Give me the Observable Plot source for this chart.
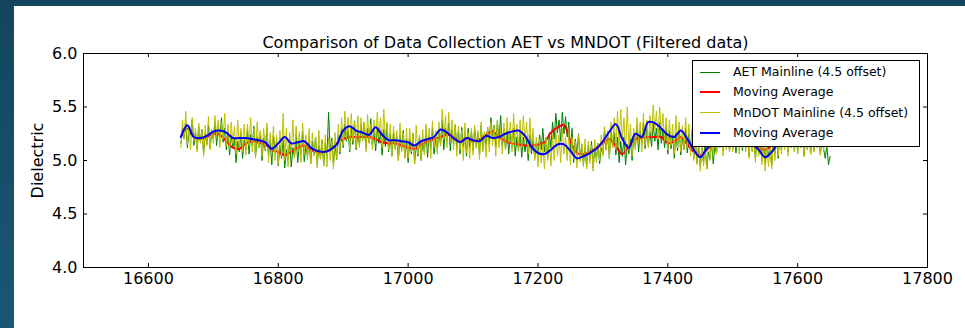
<!DOCTYPE html>
<html>
<head>
<meta charset="utf-8">
<script src="https://cdn.jsdelivr.net/npm/d3@7"></script>
<script src="https://cdn.jsdelivr.net/npm/@observablehq/plot@0.6"></script>
<style>
html, body { margin: 0; padding: 0; }
body { width: 965px; height: 328px; overflow: hidden; position: relative;
  background: linear-gradient(180deg, #124560 0%, #1a5774 100%);
  font-family: "DejaVu Sans", sans-serif; }
#panel { position: absolute; left: 14px; top: 6px; width: 951px; height: 322px; background: #fff; }
#chart { position: absolute; left: 0; top: 0; }
#legend { position: absolute; left: 678px; top: 54px; width: 226px; height: 85px;
  border: 1px solid #000; background: #fff; box-sizing: content-box; }
.row { position: absolute; left: 0; height: 20px; width: 226px; }
.sw { position: absolute; left: 7px; width: 20px; }
.lt { position: absolute; left: 40px; font-size: 12.5px; line-height: 20px; top: 0; color: #000; white-space: nowrap; }
</style>
</head>
<body>
<div id="panel">
  <div id="chart"></div>
  <div id="legend"></div>
</div>
<script>
// ---- data ----
const chartTitle = "Comparison of Data Collection AET vs MNDOT (Filtered data)";
const yLabel = "Dielectric";
const xTicks = [16600, 16800, 17000, 17200, 17400, 17600, 17800];
const yTicks = [4.0, 4.5, 5.0, 5.5, 6.0];
const xDomain = [16500, 17800];
const yDomain = [4.0, 6.0];

const rawStart = 16650;   // station of first raw sample
const rawStep = 2.5;      // station spacing of raw samples
const aetDielectric = [
  5.16, 5.30, 5.20, 5.35, 5.12, 5.28, 5.24, 5.38, 5.14, 5.26,
  5.10, 5.32, 5.18, 5.29, 5.06, 5.25, 5.15, 5.33, 5.12, 5.27,
  5.20, 5.36, 5.14, 5.31, 5.22, 5.40, 5.17, 5.30, 5.10, 5.28,
  5.05, 5.24, 5.12, 5.20, 4.98, 5.18, 5.08, 5.26, 5.02, 5.21,
  5.10, 5.29, 5.06, 5.24, 5.14, 5.32, 5.04, 5.22, 5.12, 5.27,
  5.00, 5.21, 5.09, 5.30, 5.05, 5.19, 4.96, 5.23, 5.11, 5.18,
  4.95, 5.14, 5.02, 5.20, 4.93, 5.10, 5.00, 5.17, 4.94, 5.12,
  5.03, 5.24, 4.98, 5.16, 5.06, 5.27, 4.99, 5.13, 5.04, 5.20,
  4.97, 5.18, 5.05, 5.22, 4.96, 5.14, 5.02, 5.19, 4.95, 5.16,
  5.04, 5.45, 5.08, 5.21, 4.97, 5.15, 5.01, 5.24, 5.06, 5.30,
  5.12, 5.34, 5.18, 5.29, 5.08, 5.31, 5.15, 5.37, 5.10, 5.27,
  5.14, 5.33, 5.20, 5.36, 5.11, 5.30, 5.17, 5.39, 5.13, 5.28,
  5.09, 5.31, 5.16, 5.27, 5.05, 5.29, 5.13, 5.34, 5.08, 5.25,
  5.04, 5.26, 5.12, 5.22, 5.00, 5.24, 5.09, 5.28, 5.03, 5.20,
  4.98, 5.20, 5.06, 5.25, 4.97, 5.16, 5.04, 5.22, 5.00, 5.18,
  5.08, 5.27, 5.03, 5.24, 5.12, 5.30, 5.06, 5.21, 5.10, 5.28,
  5.14, 5.38, 5.10, 5.30, 5.18, 5.35, 5.09, 5.29, 5.16, 5.33,
  5.11, 5.28, 5.06, 5.31, 5.13, 5.26, 5.04, 5.30, 5.12, 5.27,
  5.09, 5.30, 5.13, 5.26, 5.05, 5.33, 5.10, 5.24, 5.14, 5.31,
  5.16, 5.40, 5.20, 5.33, 5.12, 5.37, 5.18, 5.42, 5.14, 5.30,
  5.10, 5.28, 5.06, 5.25, 5.12, 5.30, 5.04, 5.22, 5.09, 5.27,
  5.03, 5.22, 5.08, 5.19, 5.00, 5.24, 5.06, 5.20, 5.02, 5.17,
  5.05, 5.24, 5.10, 5.30, 5.08, 5.22, 5.03, 5.26, 5.12, 5.36,
  5.20, 5.44, 5.26, 5.38, 5.18, 5.45, 5.25, 5.41, 5.22, 5.36,
  5.10, 5.30, 4.98, 5.20, 5.06, 5.25, 5.02, 5.15, 4.96, 5.12,
  4.94, 5.14, 5.00, 5.18, 4.93, 5.10, 5.02, 5.16, 4.97, 5.12,
  5.06, 5.28, 5.10, 5.24, 5.02, 5.30, 5.12, 5.26, 5.05, 5.22,
  4.98, 5.18, 5.04, 5.22, 4.96, 5.15, 5.06, 5.20, 5.00, 5.24,
  5.12, 5.33, 5.08, 5.28, 5.16, 5.35, 5.11, 5.30, 5.14, 5.27,
  5.13, 5.34, 5.18, 5.30, 5.10, 5.36, 5.16, 5.29, 5.12, 5.32,
  5.06, 5.28, 5.11, 5.24, 5.02, 5.26, 5.09, 5.31, 5.05, 5.22,
  5.10, 5.30, 5.07, 5.25, 5.13, 5.28, 5.02, 5.20, 4.98, 5.14,
  4.94, 5.12, 4.99, 5.16, 4.92, 5.08, 5.01, 5.18, 4.97, 5.14,
  5.06, 5.26, 5.12, 5.30, 5.09, 5.24, 5.14, 5.32, 5.08, 5.27,
  5.11, 5.29, 5.07, 5.32, 5.14, 5.26, 5.09, 5.30, 5.12, 5.24,
  5.04, 5.25, 5.09, 5.20, 5.01, 5.23, 5.06, 5.18, 5.00, 5.16,
  4.97, 5.18, 5.03, 5.14, 4.95, 5.20, 5.06, 5.22, 5.02, 5.25,
  5.10, 5.30, 5.14, 5.27, 5.08, 5.32, 5.12, 5.26, 5.09, 5.29,
  5.07, 5.26, 5.12, 5.30, 5.04, 5.24, 5.10, 5.28, 5.06, 5.22,
  5.09, 5.27, 5.13, 5.25, 5.05, 5.21, 5.11, 5.02, 5.14, 4.96,
  5.04
];
const mndotDielectric = [
  5.12, 5.38, 5.20, 5.46, 5.15, 5.32, 5.10, 5.40, 5.18, 5.30,
  5.08, 5.35, 5.16, 5.28, 5.04, 5.33, 5.14, 5.41, 5.10, 5.29,
  5.16, 5.42, 5.22, 5.38, 5.12, 5.36, 5.20, 5.44, 5.14, 5.34,
  5.10, 5.36, 5.16, 5.32, 5.06, 5.38, 5.12, 5.30, 5.08, 5.34,
  5.05, 5.34, 5.14, 5.40, 5.08, 5.30, 5.02, 5.36, 5.12, 5.28,
  5.04, 5.30, 5.10, 5.35, 4.98, 5.26, 5.06, 5.32, 5.00, 5.24,
  4.96, 5.28, 5.04, 5.44, 5.00, 5.30, 4.94, 5.26, 5.06, 5.38,
  5.02, 5.32, 5.08, 5.27, 4.98, 5.35, 5.06, 5.24, 5.01, 5.30,
  4.97, 5.26, 5.04, 5.22, 4.93, 5.28, 5.01, 5.20, 4.95, 5.24,
  4.94, 5.22, 5.00, 5.18, 4.92, 5.26, 5.02, 5.34, 5.08, 5.40,
  5.14, 5.46, 5.20, 5.40, 5.10, 5.44, 5.18, 5.36, 5.12, 5.42,
  5.12, 5.40, 5.18, 5.36, 5.08, 5.43, 5.16, 5.34, 5.10, 5.38,
  5.16, 5.45, 5.22, 5.40, 5.12, 5.48, 5.20, 5.36, 5.10, 5.34,
  5.04, 5.32, 5.10, 5.28, 5.00, 5.35, 5.08, 5.26, 5.02, 5.30,
  5.02, 5.30, 5.08, 5.26, 4.97, 5.33, 5.06, 5.24, 5.00, 5.29,
  5.05, 5.34, 5.10, 5.30, 5.02, 5.37, 5.12, 5.28, 5.06, 5.36,
  5.14, 5.48, 5.20, 5.42, 5.12, 5.45, 5.18, 5.38, 5.10, 5.34,
  5.04, 5.32, 5.10, 5.28, 5.00, 5.35, 5.07, 5.26, 5.02, 5.30,
  5.05, 5.33, 5.11, 5.28, 5.01, 5.36, 5.08, 5.27, 5.03, 5.31,
  5.08, 5.36, 5.14, 5.32, 5.04, 5.38, 5.12, 5.30, 5.06, 5.35,
  5.10, 5.40, 5.16, 5.36, 5.08, 5.44, 5.14, 5.34, 5.10, 5.38,
  5.12, 5.42, 5.18, 5.36, 5.06, 5.40, 5.12, 5.30, 5.00, 5.22,
  4.94, 5.20, 4.98, 5.16, 4.92, 5.22, 5.00, 5.18, 4.95, 5.24,
  5.00, 5.28, 5.04, 5.24, 4.98, 5.30, 5.06, 5.22, 5.00, 5.26,
  4.96, 5.22, 5.02, 5.18, 4.93, 5.24, 4.99, 5.16, 4.94, 5.20,
  4.92, 5.18, 4.97, 5.14, 4.90, 5.20, 4.98, 5.16, 5.00, 5.24,
  5.04, 5.32, 5.10, 5.28, 5.02, 5.36, 5.12, 5.40, 5.10, 5.46,
  5.14, 5.48, 5.20, 5.40, 5.06, 5.50, 5.12, 5.34, 5.04, 5.30,
  5.10, 5.40, 5.16, 5.36, 5.08, 5.44, 5.14, 5.38, 5.12, 5.42,
  5.22, 5.52, 5.28, 5.46, 5.20, 5.50, 5.26, 5.44, 5.18, 5.40,
  5.10, 5.38, 5.14, 5.34, 5.06, 5.42, 5.12, 5.36, 5.08, 5.32,
  5.10, 5.40, 5.12, 5.34, 5.04, 5.30, 5.00, 5.24, 4.96, 5.18,
  4.90, 5.14, 4.95, 5.10, 4.92, 5.18, 5.00, 5.22, 5.04, 5.28,
  5.06, 5.34, 5.12, 5.30, 5.04, 5.38, 5.10, 5.33, 5.08, 5.36,
  5.08, 5.36, 5.14, 5.32, 5.06, 5.38, 5.12, 5.30, 5.08, 5.34,
  5.02, 5.30, 5.08, 5.26, 4.98, 5.28, 5.04, 5.22, 4.96, 5.18,
  4.90, 5.16, 4.94, 5.12, 4.92, 5.20, 5.00, 5.24, 5.04, 5.30,
  5.06, 5.34, 5.10, 5.30, 5.04, 5.36, 5.12, 5.32, 5.08, 5.38,
  5.06, 5.36, 5.12, 5.32, 5.04, 5.38, 5.10, 5.30, 5.06, 5.34,
  5.08, 5.34, 5.12, 5.30, 5.05, 5.36, 5.10, 5.28, 5.12, 5.26
];

const maStart = 16650;   // station of first moving-average sample
const maStep = 10;
const aetMovingAvg = [
  5.22, 5.30, 5.22, 5.20, 5.22, 5.25, 5.24, 5.18, 5.12, 5.11,
  5.16, 5.18, 5.17, 5.15, 5.10, 5.08, 5.05, 5.08, 5.12, 5.14,
  5.10, 5.08, 5.08, 5.10, 5.16, 5.20, 5.22, 5.22, 5.22, 5.22,
  5.20, 5.17, 5.16, 5.16, 5.14, 5.12, 5.11, 5.15, 5.18, 5.20,
  5.22, 5.24, 5.22, 5.18, 5.20, 5.18, 5.20, 5.24, 5.27, 5.22,
  5.18, 5.16, 5.15, 5.14, 5.14, 5.15, 5.17, 5.26, 5.31, 5.33,
  5.18, 5.07, 5.06, 5.08, 5.12, 5.16, 5.20, 5.13, 5.06, 5.14,
  5.20, 5.21, 5.22, 5.22, 5.22, 5.16, 5.18, 5.22, 5.15, 5.08,
  5.05, 5.10, 5.15, 5.20, 5.22, 5.20, 5.17, 5.16, 5.14, 5.12,
  5.10, 5.14, 5.18, 5.20, 5.19, 5.17, 5.16, 5.18, 5.19, 5.17
];
const mndotMovingAvg = [
  5.22, 5.33, 5.22, 5.21, 5.23, 5.27, 5.28, 5.26, 5.21, 5.21,
  5.21, 5.20, 5.19, 5.17, 5.11, 5.16, 5.22, 5.16, 5.17, 5.18,
  5.12, 5.09, 5.08, 5.10, 5.15, 5.28, 5.32, 5.28, 5.26, 5.24,
  5.31, 5.24, 5.19, 5.19, 5.18, 5.17, 5.14, 5.18, 5.20, 5.22,
  5.29, 5.26, 5.21, 5.17, 5.21, 5.19, 5.18, 5.23, 5.21, 5.22,
  5.25, 5.27, 5.28, 5.23, 5.13, 5.07, 5.06, 5.10, 5.15, 5.15,
  5.09, 5.02, 5.04, 5.07, 5.11, 5.18, 5.27, 5.34, 5.20, 5.12,
  5.25, 5.22, 5.36, 5.35, 5.30, 5.24, 5.22, 5.28, 5.20, 5.10,
  5.03, 5.11, 5.17, 5.22, 5.24, 5.22, 5.20, 5.18, 5.15, 5.10,
  5.03, 5.08, 5.16, 5.20, 5.22, 5.20, 5.18, 5.20, 5.21, 5.19
];

const seriesNames = ["AET Mainline (4.5 offset)", "Moving Average", "MnDOT Mainline (4.5 offset)", "Moving Average"];
const seriesColors = ["#008000", "#ff0000", "#bfbf00", "#0000ff"];
const seriesWidths = [1, 2, 1, 2];

// ---- build tables ----
const toRows = (vals, start, step) => vals.map((v, i) => ({x: start + i * step, y: v}));
const aetRows = toRows(aetDielectric, rawStart, rawStep);
const mndotRows = toRows(mndotDielectric, rawStart, rawStep);
const aetMaRows = toRows(aetMovingAvg, maStart, maStep);
const mndotMaRows = toRows(mndotMovingAvg, maStart, maStep);

const W = 951, H = 322, mL = 69, mR = 38, mT = 47, mB = 61;
const pw = W - mL - mR, ph = H - mT - mB;
const tickLen = 4;
const font = "DejaVu Sans";

const chart = Plot.plot({
  width: W, height: H,
  marginLeft: mL, marginRight: mR, marginTop: mT, marginBottom: mB,
  style: {fontFamily: font, fontSize: "16px", color: "#000", background: "transparent", overflow: "visible"},
  x: {domain: xDomain},
  y: {domain: yDomain},
  marks: [
    Plot.line(aetRows, {x: "x", y: "y", stroke: seriesColors[0], strokeWidth: seriesWidths[0]}),
    Plot.line(aetMaRows, {x: "x", y: "y", stroke: seriesColors[1], strokeWidth: seriesWidths[1], curve: "catmull-rom"}),
    Plot.line(mndotRows, {x: "x", y: "y", stroke: seriesColors[2], strokeWidth: seriesWidths[2]}),
    Plot.line(mndotMaRows, {x: "x", y: "y", stroke: seriesColors[3], strokeWidth: seriesWidths[3], curve: "catmull-rom"}),
    Plot.ruleX(xTicks, {x: d => d, insetTop: ph - tickLen, stroke: "#000"}),
    Plot.ruleX(xTicks, {x: d => d, insetBottom: ph - tickLen, stroke: "#000"}),
    Plot.ruleY(yTicks, {y: d => d, insetRight: pw - tickLen, stroke: "#000"}),
    Plot.ruleY(yTicks, {y: d => d, insetLeft: pw - tickLen, stroke: "#000"}),
    Plot.frame({stroke: "#000"}),
    Plot.axisX({ticks: xTicks, tickSize: 0, tickPadding: 5, tickFormat: d => String(d), fontSize: 16, label: null}),
    Plot.axisY({ticks: yTicks, tickSize: 0, tickPadding: 6, tickFormat: d => d.toFixed(1), fontSize: 16, label: null}),
    Plot.text([yLabel], {frameAnchor: "left", textAnchor: "middle", lineAnchor: "middle", dx: -46, rotate: -90, text: d => d, fontSize: 16, fill: "#000"}),
    Plot.text([chartTitle], {frameAnchor: "top", textAnchor: "middle", lineAnchor: "middle", dy: -11, text: d => d, fontSize: 16, fill: "#000"})
  ]
});
document.getElementById("chart").appendChild(chart);

// ---- legend ----
const legend = document.getElementById("legend");
seriesNames.forEach((name, i) => {
  const row = document.createElement("div");
  row.className = "row";
  row.style.top = (1 + i * 20.3) + "px";
  const sw = document.createElement("div");
  sw.className = "sw";
  sw.style.height = seriesWidths[i] + "px";
  sw.style.top = (10 - seriesWidths[i] / 2) + "px";
  sw.style.background = seriesColors[i];
  const lt = document.createElement("div");
  lt.className = "lt";
  lt.textContent = name;
  row.appendChild(sw);
  row.appendChild(lt);
  legend.appendChild(row);
});
</script>
</body>
</html>
